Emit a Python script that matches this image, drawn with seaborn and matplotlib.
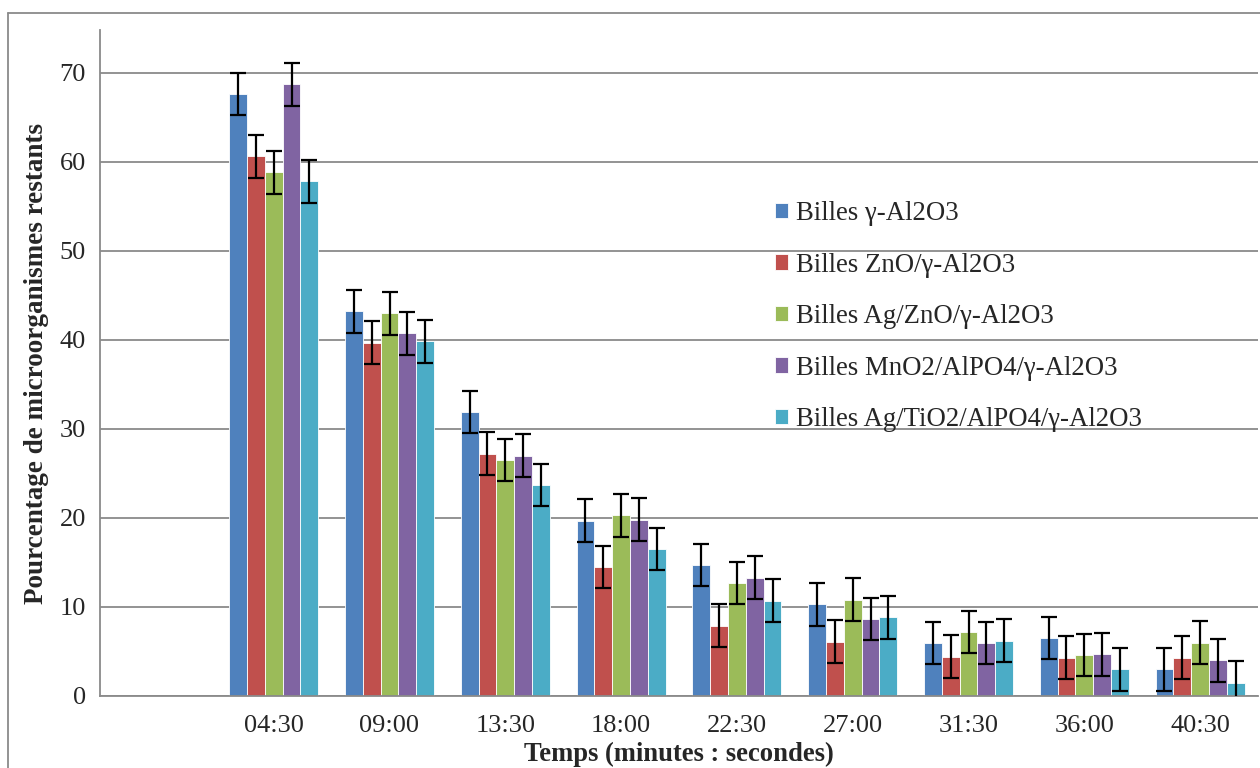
import pandas as pd
import matplotlib.pyplot as plt
import seaborn as sns
from matplotlib.lines import Line2D

# Data
temps = ['04:30', '09:00', '13:30', '18:00', '22:30', '27:00', '31:30', '36:00', '40:30']
series = ['Billes γ-Al2O3', 'Billes ZnO/γ-Al2O3', 'Billes Ag/ZnO/γ-Al2O3',
          'Billes MnO2/AlPO4/γ-Al2O3', 'Billes Ag/TiO2/AlPO4/γ-Al2O3']
al2o3 = [67.6, 43.2, 31.9, 19.7, 14.7, 10.3, 5.95, 6.5, 3.0]
zno = [60.6, 39.7, 27.2, 14.5, 7.9, 6.1, 4.4, 4.3, 4.3]
ag_zno = [58.8, 43.0, 26.5, 20.3, 12.7, 10.8, 7.2, 4.6, 6.0]
mno2 = [68.7, 40.75, 27.0, 19.8, 13.3, 8.65, 5.95, 4.7, 4.0]
ag_tio2 = [57.8, 39.85, 23.7, 16.5, 10.7, 8.85, 6.2, 3.0, 1.5]
erreur = 2.4  # same error bar on every bar
colors = ['#4F81BD', '#C0504D', '#9BBB59', '#8064A2', '#4BACC6']

rows = []
for name, vals in zip(series, [al2o3, zno, ag_zno, mno2, ag_tio2]):
    for t, v in zip(temps, vals):
        rows.append({'temps': t, 'serie': name, 'valeur': v})
df = pd.DataFrame(rows)

sns.set_style('white')
plt.rcParams['font.family'] = ['Liberation Serif', 'DejaVu Serif']

fig = plt.figure(figsize=(12.6, 7.68), dpi=100)
ax = fig.add_axes([100 / 1260, 1 - 696 / 768, 1158 / 1260, 666 / 768])

order = [''] + temps  # first category slot is empty in the original
sns.barplot(data=df, x='temps', y='valeur', hue='serie', order=order,
            hue_order=series, palette=colors, width=0.77, errorbar=None,
            edgecolor='white', linewidth=0.6, saturation=1, ax=ax)

# Error bars on top of each bar
bar_groups = list(ax.containers)
for cont in bar_groups:
    xs = [p.get_x() + p.get_width() / 2 for p in cont.patches]
    ys = [p.get_height() for p in cont.patches]
    ax.errorbar(xs, ys, yerr=erreur, fmt='none', ecolor='black',
                elinewidth=1.6, capsize=5.5, capthick=1.6, zorder=5)

ax.set_ylim(0, 74.8)
ax.set_xlim(-0.5, 9.5)
ax.set_yticks(range(0, 71, 10))
ax.yaxis.grid(True, color='#8a8a8a', linewidth=1.3)
ax.set_axisbelow(True)

# Ticks between categories, labels at category centres
ax.set_xticks([i - 0.5 for i in range(11)])
ax.set_xticklabels([])
ax.set_xticks(range(10), minor=True)
ax.set_xticklabels(order, minor=True, fontsize=19)
ax.tick_params(axis='x', which='major', length=6, color='#8a8a8a', width=1.3, direction='out')
ax.tick_params(axis='x', which='minor', length=0, pad=14)
ax.tick_params(axis='y', length=6, color='#8a8a8a', width=1.3, direction='out',
               labelsize=19, pad=4)

for s in ['top', 'right']:
    ax.spines[s].set_visible(False)
for s in ['left', 'bottom']:
    ax.spines[s].set_color('#8a8a8a')
    ax.spines[s].set_linewidth(1.3)

ax.set_xlabel('Temps (minutes : secondes)', fontsize=19.2, fontweight='bold', labelpad=3.5)
ax.set_ylabel('Pourcentage de microorganismes restants', fontsize=19.5, fontweight='bold', labelpad=8)

handles, labels = ax.get_legend_handles_labels()
ax.legend(handles, labels, loc='upper left', bbox_to_anchor=(775 / 1260, 1 - 201 / 768),
          bbox_transform=fig.transFigure, frameon=False, fontsize=19.3,
          handlelength=0.5, handleheight=0.5, handletextpad=0.3,
          labelspacing=0.99, borderpad=0, borderaxespad=0)

# Outer chart border (cut off on the right and bottom)
fig.add_artist(Line2D([8 / 1260, 8 / 1260], [0, 1 - 13 / 768], color='#8a8a8a', lw=1.3))
fig.add_artist(Line2D([8 / 1260, 1], [1 - 13 / 768, 1 - 13 / 768], color='#8a8a8a', lw=1.3))

plt.savefig('out.png', dpi=100)
